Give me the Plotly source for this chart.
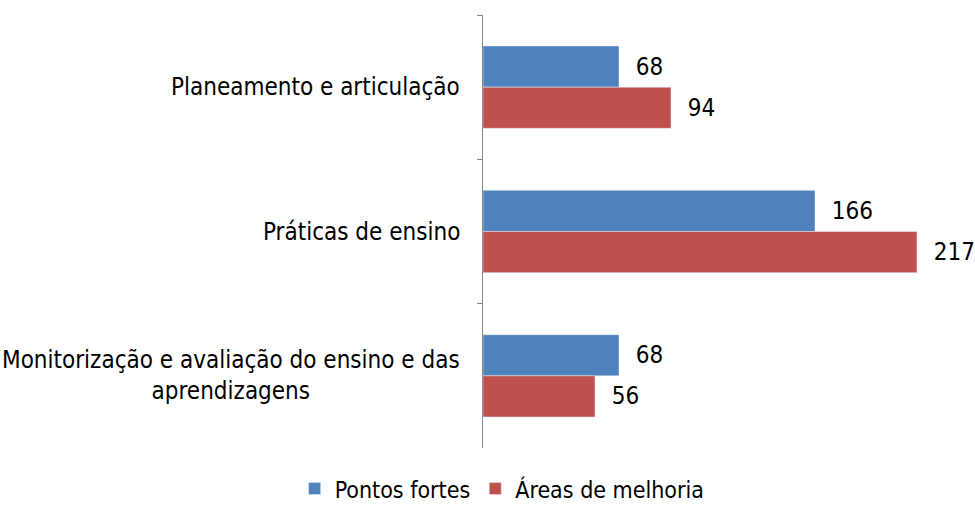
import plotly.graph_objects as go

categories = [
    "Planeamento e articulação",
    "Práticas de ensino",
    "Monitorização e avaliação do ensino e das<br>aprendizagens",
]
pontos_fortes = [68, 166, 68]
areas_melhoria = [94, 217, 56]
series_names = ["Pontos fortes", "Áreas de melhoria"]

FONT = "Tahoma, 'DejaVu Sans Condensed', 'Noto Sans', sans-serif"
BLUE = "#4F81BD"
RED = "#C0504D"

fig = go.Figure()
for name, values, color in [
    (series_names[0], pontos_fortes, BLUE),
    (series_names[1], areas_melhoria, RED),
]:
    fig.add_trace(
        go.Bar(
            y=categories,
            x=values,
            name=name,
            orientation="h",
            marker_color=color,
            text=values,
            texttemplate="\u00a0\u00a0%{x}",
            textposition="outside",
            textfont=dict(size=24, color="#000000", family=FONT),
            cliponaxis=False,
        )
    )

# category labels as centred, right-anchored text blocks
for cat in categories:
    fig.add_annotation(
        x=-0.044,
        xref="paper",
        y=cat,
        yref="y",
        text=cat,
        showarrow=False,
        xanchor="right",
        align="center",
        font=dict(size=24, color="#000000", family=FONT),
    )

fig.update_layout(
    barmode="group",
    bargap=0.43,
    bargroupgap=0,
    width=975,
    height=509,
    margin=dict(l=483, r=12, t=15, b=61),
    paper_bgcolor="white",
    plot_bgcolor="white",
    font=dict(family=FONT, color="#000000"),
    legend=dict(
        orientation="h",
        xref="container",
        x=0.515,
        xanchor="center",
        yref="container",
        y=0.04,
        yanchor="middle",
        font=dict(size=23),
        itemwidth=30,
    ),
)
fig.update_xaxes(range=[0, 240], visible=False)
fig.update_yaxes(
    autorange="reversed",
    showticklabels=False,
    showline=True,
    linecolor="#868686",
    linewidth=1,
    ticks="outside",
    tickson="boundaries",
    ticklen=5,
    tickcolor="#868686",
    showgrid=False,
)

fig.write_html(
    "out.html",
    config={"displayModeBar": False},
    post_script="document.body.style.margin = '0';",
)
